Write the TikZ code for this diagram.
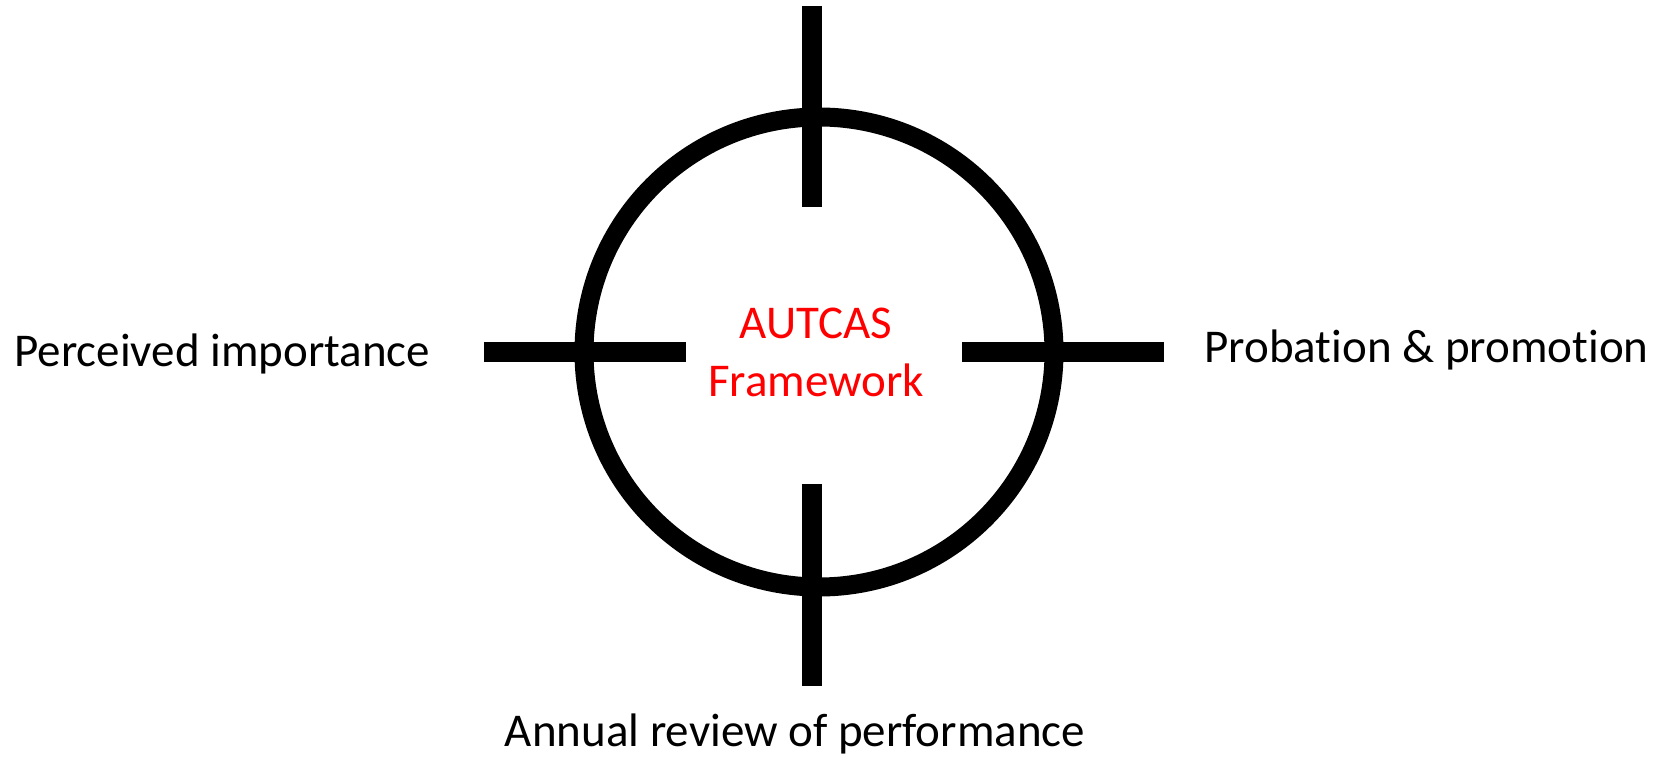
\documentclass[tikz,border=0pt]{standalone}
\usepackage{fontspec}
\setmainfont[Ligatures=NoCommon]{Carlito}
\usetikzlibrary{calc}

\begin{document}
\begin{tikzpicture}[x=0.5pt, y=-0.5pt]
            \tikzstyle{bar} = [line width=10pt]
            \tikzstyle{label} = [inner sep=0pt, font=\fontsize{23.5}{29}\selectfont]
            \useasboundingbox (0, 0) rectangle (1657, 758);
            \coordinate (centre) at (819, 352);
            \coordinate (top1) at (812, 6);
            \coordinate (top2) at (812, 207);
            \coordinate (bot1) at (812, 484);
            \coordinate (bot2) at (812, 686);
            \coordinate (left1) at (484, 352);
            \coordinate (left2) at (686, 352);
            \coordinate (right1) at (962, 352);
            \coordinate (right2) at (1164, 352);
            \draw[line width=9.5pt] (centre) circle[radius=117.5pt];
            \draw[bar] (top1) -- (top2);
            \draw[bar] (bot1) -- (bot2);
            \draw[bar] (left1) -- (left2);
            \draw[bar] (right1) -- (right2);
            \node[label, anchor=base, align=center, text=red] (autcas) at (816, 397) {AUTCAS\\Framework};
            \node[label, anchor=base west] (importance) at (14, 367) {Perceived importance};
            \node[label, anchor=base east] (probation) at (1649, 363) {Probation \& promotion};
            \node[label, anchor=base] (review) at (795, 746) {Annual review of performance};
        \end{tikzpicture}
\end{document}
